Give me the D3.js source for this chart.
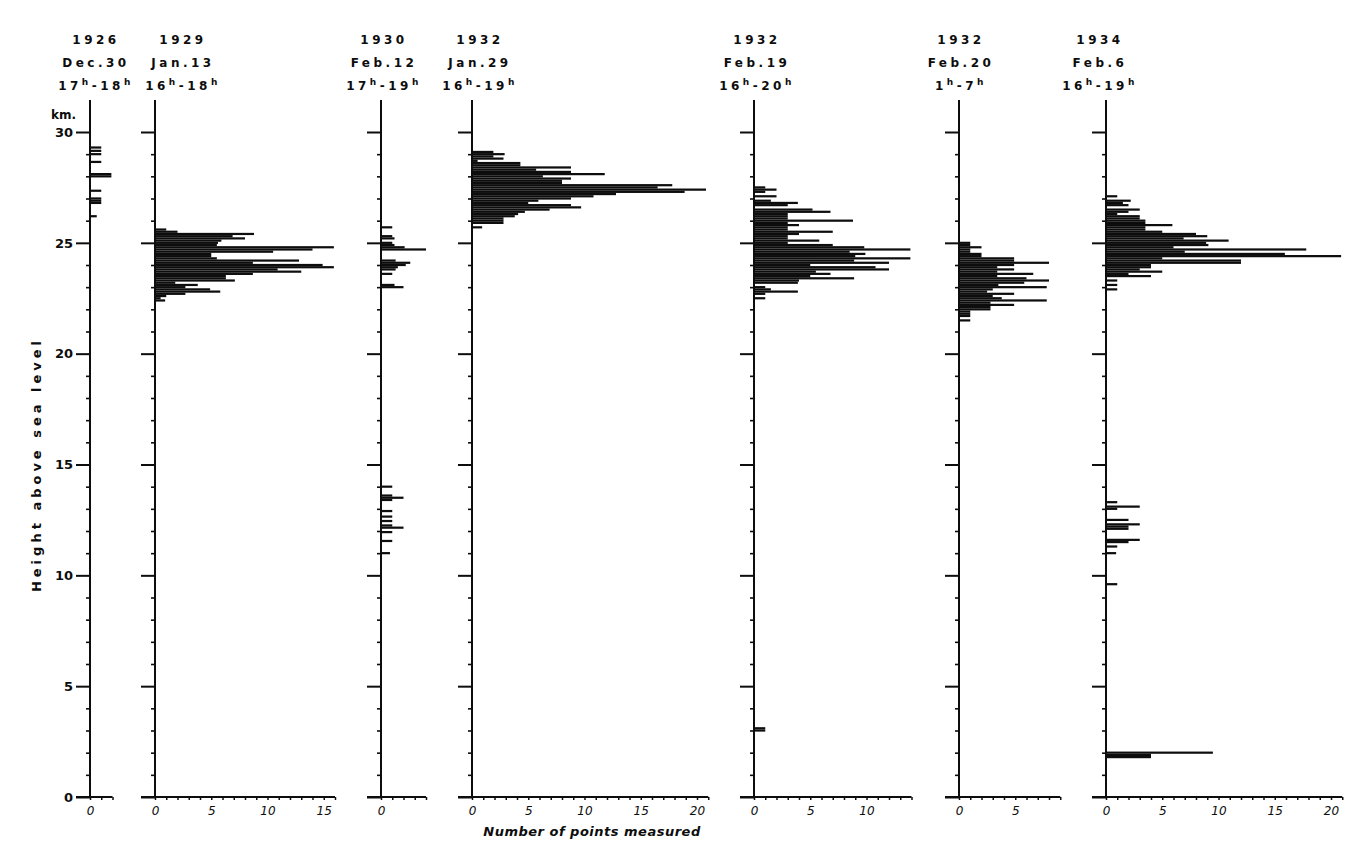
<!DOCTYPE html>
<html><head><meta charset="utf-8">
<script src="https://cdn.jsdelivr.net/npm/d3@7"></script>
<style>body{margin:0;background:#fff}svg{display:block}</style>
</head><body><svg id="c" width="1371" height="863"></svg>
<script>
// ---------- data ----------
const heightTicks = [0, 5, 10, 15, 20, 25, 30];
const headerYears = ["1926", "1929", "1930", "1932", "1932", "1932", "1934"];
const headerDates = ["Dec.30", "Jan.13", "Feb.12", "Jan.29", "Feb.19", "Feb.20", "Feb.6"];
const headerStart = ["17", "16", "17", "16", "16", "1", "16"];
const headerEnd = ["18", "18", "19", "19", "20", "7", "19"];
const countMax = [2, 16, 4, 21, 14, 9, 21];
const countLabels = [[0], [0, 5, 10, 15], [0], [0, 5, 10, 15, 20], [0, 5, 10], [0, 5], [0, 5, 10, 15, 20]];

const km1926 = [29.3, 29.15, 29.0, 28.65, 28.1, 28.0, 27.35, 27.0, 26.9, 26.8, 26.2];
const n1926 = [1, 1, 1, 1, 1.9, 1.9, 1, 1, 1, 1, 0.6];

const km1929 = [25.6, 25.5, 25.4, 25.3, 25.2, 25.1, 25.0, 24.9, 24.8, 24.7, 24.6, 24.5, 24.4, 24.3, 24.2, 24.1, 24.0, 23.9, 23.8, 23.7, 23.6, 23.5, 23.4, 23.3, 23.2, 23.1, 23.0, 22.9, 22.8, 22.7, 22.6, 22.5, 22.4];
const n1929 = [1, 2, 8.8, 6.9, 8.0, 5.9, 5.6, 5.5, 15.9, 14.0, 10.5, 5.0, 5.0, 5.5, 12.8, 8.7, 14.9, 15.9, 10.9, 13.0, 8.7, 6.3, 6.3, 7.1, 1.8, 3.8, 2.7, 4.9, 5.8, 2.7, 1.0, 0.5, 0.9];

const km1930 = [25.7, 25.3, 25.2, 25.0, 24.9, 24.8, 24.7, 24.2, 24.1, 24.0, 23.9, 23.8, 23.6, 23.1, 23.0, 14.0, 13.6, 13.5, 13.4, 12.9, 12.65, 12.45, 12.25, 12.15, 11.95, 11.55, 11.0];
const n1930 = [1, 1, 1.2, 1, 1.2, 2.1, 4.0, 1.3, 2.6, 2.2, 1.5, 1.3, 1.0, 1.2, 2.0, 1, 1, 2, 1, 1, 1, 1, 1, 2, 1, 1, 0.8];

const km1932a = [29.1, 29.0, 28.9, 28.8, 28.7, 28.6, 28.5, 28.4, 28.3, 28.2, 28.1, 28.0, 27.9, 27.8, 27.7, 27.6, 27.5, 27.4, 27.3, 27.2, 27.1, 27.0, 26.9, 26.8, 26.7, 26.6, 26.5, 26.4, 26.3, 26.2, 26.1, 26.0, 25.9, 25.7];
const n1932a = [1.9, 2.9, 1.9, 2.8, 0.5, 4.3, 4.3, 8.8, 5.7, 8.8, 11.8, 6.3, 8.8, 8.0, 8.0, 17.8, 16.5, 20.8, 18.9, 12.8, 10.8, 8.8, 5.9, 5.0, 8.8, 9.7, 6.9, 4.7, 4.1, 3.8, 2.8, 2.8, 2.8, 0.9];

const km1932b = [27.5, 27.4, 27.3, 27.1, 26.9, 26.8, 26.7, 26.5, 26.4, 26.3, 26.2, 26.1, 26.0, 25.9, 25.8, 25.7, 25.6, 25.5, 25.4, 25.3, 25.2, 25.1, 25.0, 24.9, 24.8, 24.7, 24.6, 24.5, 24.4, 24.3, 24.2, 24.1, 24.0, 23.9, 23.8, 23.7, 23.6, 23.5, 23.4, 23.3, 23.2, 23.0, 22.9, 22.8, 22.7, 22.5, 3.1, 3.0];
const n1932b = [1, 2, 1, 2, 1.5, 3.9, 3, 5.2, 6.8, 3, 3, 3, 8.8, 3, 4, 3, 3, 7.0, 4, 3, 3, 5.8, 3, 7.0, 9.8, 13.9, 8.5, 9.9, 9.0, 13.9, 8.9, 12.0, 5.0, 10.8, 12.0, 5.5, 6.8, 5.0, 8.9, 4.0, 3.9, 1, 1.5, 3.9, 1, 1, 1, 1];

const km1932c = [25.0, 24.9, 24.8, 24.7, 24.6, 24.5, 24.4, 24.3, 24.2, 24.1, 24.0, 23.9, 23.8, 23.7, 23.6, 23.5, 23.4, 23.3, 23.2, 23.1, 23.0, 22.9, 22.8, 22.7, 22.6, 22.5, 22.4, 22.3, 22.2, 22.1, 22.0, 21.9, 21.8, 21.7, 21.5];
const n1932c = [1, 1, 2, 1, 1, 2, 2, 4.9, 4.9, 8.0, 4.9, 3.4, 4.9, 3.4, 6.6, 3.4, 6.0, 8.0, 5.8, 3.5, 7.8, 3.0, 2.5, 4.9, 3.0, 3.8, 7.8, 2.8, 4.9, 2.8, 2.8, 1.0, 1.0, 1.0, 1.0];

const km1934 = [27.1, 26.9, 26.8, 26.7, 26.5, 26.4, 26.3, 26.2, 26.1, 26.0, 25.9, 25.8, 25.7, 25.6, 25.5, 25.4, 25.3, 25.2, 25.1, 25.0, 24.9, 24.8, 24.7, 24.6, 24.5, 24.4, 24.3, 24.2, 24.1, 24.0, 23.9, 23.8, 23.7, 23.6, 23.5, 23.3, 23.1, 22.9, 13.3, 13.1, 13.0, 12.5, 12.3, 12.2, 12.1, 11.6, 11.5, 11.3, 11.0, 9.6, 2.0, 1.9, 1.8];
const n1934 = [1, 2.2, 1.5, 2, 3, 2, 1, 3, 3, 3.5, 3.5, 5.9, 3.5, 3.5, 5, 8, 9, 6.9, 10.9, 8.9, 9.1, 6, 17.8, 7, 15.9, 20.9, 5, 12, 12, 4, 4, 3, 5, 2, 4, 1, 1, 1, 1, 3, 1, 2, 3, 2, 2, 3, 2, 1, 0.9, 1, 9.5, 4, 4];

const panelKm = [km1926, km1929, km1930, km1932a, km1932b, km1932c, km1934];
const panelN = [n1926, n1929, n1930, n1932a, n1932b, n1932c, n1934];

// ---------- layout ----------
const W = 1371, H = 863;
const axisX = [90, 155, 381, 472, 754, 959, 1106];
const headerCx = [96, 183, 384, 480, 757, 961, 1100];
const headerY = [44, 67, 90];
const unitPx = 11.25;
const bin = 0.1;
const ink = "#0d0d0d";
const font = "'DejaVu Sans', sans-serif";

const svg = d3.select("#c");
svg.append("rect").attr("width", W).attr("height", H).attr("fill", "#fff");

const y = d3.scaleLinear().domain([0, 30]).range([797, 132]);
const yTop = y.invert(100);

panelKm.forEach((kms, i) => {
  const x0 = axisX[i];
  const x = d3.scaleLinear().domain([0, countMax[i]]).range([x0, x0 + countMax[i] * unitPx]);
  const g = svg.append("g");

  g.selectAll("rect.bar").data(d3.zip(kms, panelN[i])).join("rect")
    .attr("class", "bar")
    .attr("x", x(0))
    .attr("y", d => y(d[0] + bin / 2))
    .attr("width", d => x(d[1]) - x(0))
    .attr("height", y(0) - y(bin))
    .attr("fill", ink);

  g.append("line").attr("x1", x0).attr("x2", x0).attr("y1", y(yTop)).attr("y2", y(0))
    .attr("stroke", ink).attr("stroke-width", 2);

  const minor = d3.axisLeft(y).tickValues(d3.range(0, 31).filter(v => v % 5 !== 0)).tickSize(4).tickFormat("");
  const gm = g.append("g").attr("transform", `translate(${x0},0)`).call(minor);
  gm.select(".domain").remove();
  gm.selectAll("line").attr("stroke", ink).attr("stroke-width", 1.6);

  const major = d3.axisLeft(y).tickValues(heightTicks).tickSize(14).tickPadding(3)
    .tickFormat(i === 0 ? d3.format("d") : "");
  const gM = g.append("g").attr("transform", `translate(${x0},0)`).call(major);
  gM.select(".domain").remove();
  gM.selectAll("line").attr("stroke", ink).attr("stroke-width", 2);
  gM.selectAll("text").attr("fill", ink).attr("font-family", font).attr("font-weight", "bold").attr("font-size", 13);

  g.append("line").attr("x1", x0 - 14).attr("x2", x(countMax[i])).attr("y1", y(0)).attr("y2", y(0))
    .attr("stroke", ink).attr("stroke-width", 2);
  const xt = d3.axisBottom(x).tickValues(d3.range(0, countMax[i] + 1)).tickSize(3).tickFormat("");
  const gx = g.append("g").attr("transform", `translate(0,${y(0)})`).call(xt);
  gx.select(".domain").remove();
  gx.selectAll("line").attr("stroke", ink).attr("stroke-width", 1.5);
  const xl = d3.axisBottom(x).tickValues(countLabels[i]).tickSize(0).tickPadding(9).tickFormat(d3.format("d"));
  const gl = g.append("g").attr("transform", `translate(0,${y(0)})`).call(xl);
  gl.select(".domain").remove();
  gl.selectAll("text").attr("fill", ink).attr("font-family", font).attr("font-style", "italic").attr("font-size", 12);

  const hg = g.append("g").attr("fill", ink).attr("font-family", font).attr("font-weight", "bold")
    .attr("font-size", 12).attr("text-anchor", "middle").attr("letter-spacing", "3.5px");
  hg.append("text").attr("x", headerCx[i]).attr("y", headerY[0]).text(headerYears[i]);
  hg.append("text").attr("x", headerCx[i]).attr("y", headerY[1]).text(headerDates[i]);
  const t = hg.append("text").attr("x", headerCx[i]).attr("y", headerY[2]);
  t.append("tspan").text(headerStart[i]);
  t.append("tspan").attr("dy", -5).attr("font-size", 9).text("h");
  t.append("tspan").attr("dy", 5).text("-" + headerEnd[i]);
  t.append("tspan").attr("dy", -5).attr("font-size", 9).text("h");
});

svg.append("text").attr("x", 76).attr("y", 119).attr("text-anchor", "end")
  .attr("font-family", font).attr("font-weight", "bold").attr("font-size", 12).attr("fill", ink).text("km.");

svg.append("text").attr("transform", `translate(41,${y(15)}) rotate(-90)`).attr("text-anchor", "middle")
  .attr("font-family", font).attr("font-weight", "bold").attr("font-size", 13).attr("letter-spacing", "4px")
  .attr("fill", ink).text("Height above sea level");
svg.append("text").attr("x", 592).attr("y", 836).attr("text-anchor", "middle")
  .attr("font-family", font).attr("font-weight", "bold").attr("font-style", "italic").attr("font-size", 13)
  .attr("letter-spacing", "0.5px").attr("fill", ink).text("Number of points measured");
</script></body></html>
